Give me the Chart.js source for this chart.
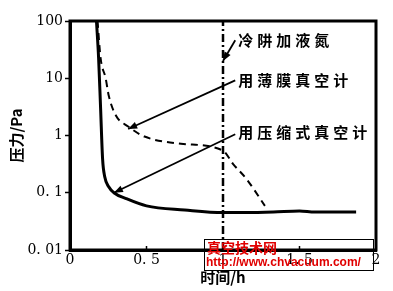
<!DOCTYPE html>
<html>
<head>
<meta charset="utf-8">
<script src="https://cdn.jsdelivr.net/npm/chart.js@4"></script>
<style>
  html, body { margin: 0; padding: 0; background: #fff; }
  canvas { display: block; }
</style>
</head>
<body>
<canvas id="chart" width="393" height="291"></canvas>
<script>
// pressure vs time
const xTickValues = [0, 0.5, 1, 1.5, 2];
const xTickLabels = ['0', '0. 5', '1', '1. 5', '2'];
const yTickValues = [0.01, 0.1, 1, 10, 100];
const yTickLabels = ['0. 01', '0. 1', '1', '10', '100'];

// compression gauge (solid)
const solidX = [0.173, 0.187, 0.2, 0.213, 0.227, 0.253, 0.287, 0.367, 0.5, 0.75, 1.0, 1.15, 1.33, 1.5, 1.6, 1.87];
const solidY = [100, 22.4, 2.98, 0.39, 0.19, 0.127, 0.1, 0.079, 0.059, 0.05, 0.045, 0.045, 0.046, 0.048, 0.046, 0.046];

// membrane gauge (dashed)
const dashX = [0.18, 0.2, 0.233, 0.253, 0.3, 0.38, 0.487, 0.725, 1.0, 1.065, 1.152, 1.274];
const dashY = [100, 22.4, 10, 5.0, 2.24, 1.44, 0.96, 0.72, 0.545, 0.32, 0.176, 0.059];

// liquid nitrogen added to cold trap
const coldTrapX = [1, 1];
const coldTrapY = [0.01, 100];

const toPoints = (xs, ys) => xs.map((x, i) => ({ x: x, y: ys[i] }));

// callouts, anchored in data coordinates
const callouts = [
    { text: '冷阱加液氮', at: [1.1, 46], from: [1.08, 46], to: [1.0, 20] },
    { text: '用薄膜真空计', at: [1.1, 9.2], from: [1.08, 9.2], to: [0.38, 1.3] },
    { text: '用压缩式真空计', at: [1.1, 1.15], from: [1.08, 1.05], to: [0.287, 0.1] }
];

const decorPlugin = {
    id: 'decor',
    beforeDraw(chart) {
        const ctx = chart.ctx;
        ctx.save();
        ctx.fillStyle = '#ffffff';
        ctx.fillRect(0, 0, chart.width, chart.height);
        ctx.restore();
    },
    afterDraw(chart) {
        const ctx = chart.ctx;
        const xs = chart.scales.x;
        const ys = chart.scales.y;
        const a = chart.chartArea;

        // frame around plot
        ctx.save();
        ctx.strokeStyle = '#000';
        ctx.lineWidth = 3;
        ctx.strokeRect(a.left, a.top, a.right - a.left, a.bottom - a.top);

        // small inner ticks on x axis
        ctx.lineWidth = 1.5;
        xTickValues.slice(1, -1).forEach(v => {
            const px = xs.getPixelForValue(v);
            ctx.beginPath();
            ctx.moveTo(px, a.bottom);
            ctx.lineTo(px, a.bottom - 4);
            ctx.stroke();
        });

        // callouts
        ctx.fillStyle = '#000';
        ctx.lineWidth = 1.8;
        ctx.font = 'bold 15px "Noto Sans CJK SC"';
        ctx.textBaseline = 'middle';
        ctx.textAlign = 'left';
        ctx.letterSpacing = '4px';
        callouts.forEach(c => {
            const fx = xs.getPixelForValue(c.from[0]), fy = ys.getPixelForValue(c.from[1]);
            const tx = xs.getPixelForValue(c.to[0]), ty = ys.getPixelForValue(c.to[1]);
            ctx.beginPath();
            ctx.moveTo(fx, fy);
            ctx.lineTo(tx, ty);
            ctx.stroke();
            // arrow head
            const ang = Math.atan2(ty - fy, tx - fx);
            const len = 9, w = 3.5;
            ctx.beginPath();
            ctx.moveTo(tx, ty);
            ctx.lineTo(tx - len * Math.cos(ang) + w * Math.sin(ang), ty - len * Math.sin(ang) - w * Math.cos(ang));
            ctx.lineTo(tx - len * Math.cos(ang) - w * Math.sin(ang), ty - len * Math.sin(ang) + w * Math.cos(ang));
            ctx.closePath();
            ctx.fill();
            ctx.fillText(c.text, xs.getPixelForValue(c.at[0]), ys.getPixelForValue(c.at[1]));
        });
        ctx.letterSpacing = '0px';

        // site watermark stamped on the scan
        ctx.strokeStyle = '#000';
        ctx.lineWidth = 1;
        ctx.strokeRect(204.5, 239.5, 169, 31);
        ctx.fillStyle = '#e00000';
        ctx.textBaseline = 'middle';
        ctx.font = 'bold 14px "Noto Sans CJK SC"';
        ctx.fillText('真空技术网', 207, 248);
        ctx.font = 'bold 12px "Liberation Sans"';
        ctx.fillText('http://www.chvacuum.com/', 206, 263);
        ctx.restore();
    }
};

const tickFont = { family: 'DejaVu Serif', size: 14 };
const titleFont = { family: 'Noto Sans CJK SC', size: 15, weight: 'bold' };

new Chart(document.getElementById('chart'), {
    type: 'line',
    data: {
        datasets: [
            {
                label: '用压缩式真空计',
                data: toPoints(solidX, solidY),
                borderColor: '#000',
                borderWidth: 3,
                pointRadius: 0,
                cubicInterpolationMode: 'monotone',
                fill: false
            },
            {
                label: '用薄膜真空计',
                data: toPoints(dashX, dashY),
                borderColor: '#000',
                borderWidth: 2,
                borderDash: [7, 5],
                pointRadius: 0,
                cubicInterpolationMode: 'monotone',
                fill: false
            },
            {
                label: '冷阱加液氮',
                data: toPoints(coldTrapX, coldTrapY),
                borderColor: '#000',
                borderWidth: 2.5,
                borderDash: [8, 3, 2, 3],
                pointRadius: 0,
                fill: false
            }
        ]
    },
    options: {
        responsive: false,
        animation: false,
        devicePixelRatio: 1,
        layout: { padding: { top: 21, right: 17, left: 0, bottom: 0 } },
        plugins: {
            legend: { display: false },
            tooltip: { enabled: false }
        },
        scales: {
            x: {
                type: 'linear',
                min: 0,
                max: 2,
                afterBuildTicks: s => { s.ticks = xTickValues.map(v => ({ value: v })); },
                afterFit: s => { s.height = 41; },
                ticks: {
                    callback: v => xTickLabels[xTickValues.indexOf(v)],
                    font: tickFont,
                    color: '#000',
                    padding: 2,
                    maxRotation: 0,
                    autoSkip: false
                },
                grid: { display: true, drawOnChartArea: false, drawTicks: false },
                border: { color: '#000', width: 3 },
                title: {
                    display: true,
                    text: '时间/h',
                    font: titleFont,
                    color: '#000',
                    padding: { top: 1, bottom: 5 }
                }
            },
            y: {
                type: 'logarithmic',
                min: 0.01,
                max: 100,
                afterBuildTicks: s => { s.ticks = yTickValues.map(v => ({ value: v })); },
                afterFit: s => { s.width = 70; },
                ticks: {
                    callback: v => yTickLabels[yTickValues.indexOf(v)],
                    font: tickFont,
                    color: '#000',
                    padding: 2,
                    autoSkip: false
                },
                grid: {
                    display: true,
                    drawOnChartArea: false,
                    drawTicks: true,
                    tickLength: 5,
                    tickColor: '#000',
                    tickWidth: 1.5
                },
                border: { color: '#000', width: 3 },
                title: {
                    display: true,
                    text: '压力/Pa',
                    font: titleFont,
                    color: '#000',
                    padding: { top: 7, bottom: 0 }
                }
            }
        }
    },
    plugins: [decorPlugin]
});
</script>
</body>
</html>
